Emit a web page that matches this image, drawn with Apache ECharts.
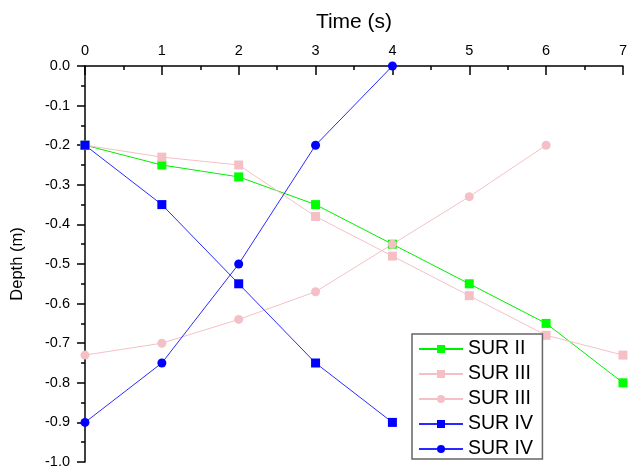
<!DOCTYPE html>
<html><head><meta charset="utf-8">
<script src="https://cdn.jsdelivr.net/npm/echarts@6/dist/echarts.min.js"></script>
<style>html,body{margin:0;padding:0;background:#fff}#c{width:630px;height:471px}</style>
</head><body><div id="c"></div>
<script>
const timeTicks = [0, 1, 2, 3, 4, 5, 6, 7];
const surII = [-0.2, -0.25, -0.28, -0.35, -0.45, -0.55, -0.65, -0.8];
const surIIIsq = [-0.2, -0.23, -0.25, -0.38, -0.48, -0.58, -0.68, -0.73];
const surIIIci = [-0.73, -0.70, -0.64, -0.57, -0.45, -0.33, -0.2];
const surIVsq = [-0.2, -0.35, -0.55, -0.75, -0.9];
const surIVci = [-0.9, -0.75, -0.5, -0.2, 0.0];
// second entries carry a trailing space so the legend keeps them apart
const names = ['SUR II', 'SUR III', 'SUR III ', 'SUR IV', 'SUR IV '];

function pts(arr){ return arr.map((v,i)=>[timeTicks[i], v]); }
const font = 'Liberation Sans, Arial, sans-serif';
function mk(name, data, line, mark, symbol){
  return {name, type:'line', data:pts(data), symbol, symbolSize: 9,
    lineStyle:{color:line, width:1}, itemStyle:{color:mark}, clip:false, animation:false};
}
const chart = echarts.init(document.getElementById('c'));
chart.setOption({
  animation:false,
  grid:{left:85, top:66, right:6, bottom:9},
  xAxis:{type:'value', position:'top', min:0, max:7, interval:1,
    name:'Time (s)', nameLocation:'middle', nameGap:33,
    nameTextStyle:{fontFamily:font, fontSize:21, color:'#000'},
    axisLine:{lineStyle:{color:'#000', width:1.5}},
    axisTick:{inside:true, length:9, lineStyle:{color:'#000', width:1.5}},
    minorTick:{show:true, splitNumber:2, length:4, lineStyle:{color:'#000', width:1.5}},
    axisLabel:{fontFamily:font, fontSize:14.5, color:'#000', margin:8},
    splitLine:{show:false}},
  yAxis:{type:'value', min:-1, max:0, interval:0.1,
    name:'Depth (m)', nameLocation:'middle', nameGap:59, nameRotate:90,
    nameTextStyle:{fontFamily:font, fontSize:16.5, color:'#000'},
    axisLine:{onZero:false, lineStyle:{color:'#000', width:1.5}},
    axisTick:{inside:false, length:8, lineStyle:{color:'#000', width:1.5}},
    minorTick:{show:true, splitNumber:2, length:4, lineStyle:{color:'#000', width:1.5}},
    axisLabel:{fontFamily:font, fontSize:14.5, color:'#000', margin:15, formatter:v=>v.toFixed(1)},
    splitLine:{show:false}},
  legend:{orient:'vertical', left:412, top:334, itemWidth:44, itemHeight:10, itemGap:5,
    padding:[5,4,0,6], borderColor:'#666', borderWidth:1.5, backgroundColor:'#fff',
    textStyle:{fontFamily:font, fontSize:19.5, color:'#000'},
    data:[0,1,2,3,4].map(i=>({name:names[i]}))},
  series:[
    mk(names[0], surII, '#00ee00', '#00ff00', 'rect'),
    mk(names[1], surIIIsq, '#f4c0c6', '#f4c0c6', 'rect'),
    mk(names[2], surIIIci, '#f4c0c6', '#f4c0c6', 'circle'),
    mk(names[3], surIVsq, '#2a2aff', '#0000ff', 'rect'),
    mk(names[4], surIVci, '#2a2aff', '#0000ff', 'circle')
  ]
});
</script></body></html>
